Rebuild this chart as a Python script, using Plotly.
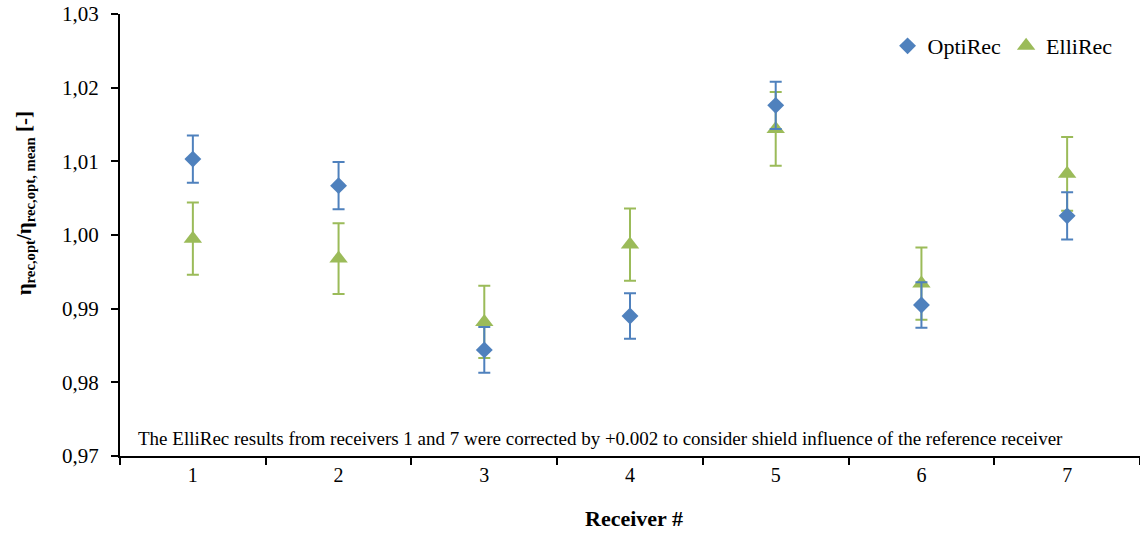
import plotly.graph_objects as go

receivers = ["1", "2", "3", "4", "5", "6", "7"]
opti_vals = [1.0103, 1.0067, 0.9844, 0.9890, 1.0176, 0.9905, 1.0026]
opti_err = [0.0032, 0.0032, 0.0031, 0.0031, 0.0032, 0.0031, 0.0032]
elli_vals = [0.9995, 0.9968, 0.9882, 0.9987, 1.0144, 0.9934, 1.0083]
elli_err = [0.0049, 0.0048, 0.0049, 0.0049, 0.0050, 0.0049, 0.0050]
y_ticks = [0.97, 0.98, 0.99, 1.00, 1.01, 1.02, 1.03]

BLUE = "#4F81BD"
GREEN = "#9BBB59"
FONT = "Times New Roman, Liberation Serif, serif"

fig = go.Figure()
fig.add_trace(go.Scatter(
    x=receivers, y=elli_vals, mode="markers", name="ElliRec",
    marker=dict(symbol="triangle-up", size=16, color=GREEN),
    error_y=dict(type="data", array=elli_err, visible=True, color=GREEN,
                 thickness=2, width=6),
))
fig.add_trace(go.Scatter(
    x=receivers, y=opti_vals, mode="markers", name="OptiRec",
    marker=dict(symbol="diamond", size=13, color=BLUE),
    error_y=dict(type="data", array=opti_err, visible=True, color=BLUE,
                 thickness=2, width=6),
))

fig.update_layout(
    width=1140, height=533,
    margin=dict(l=120, r=0, t=14, b=77, autoexpand=False),
    paper_bgcolor="white", plot_bgcolor="white",
    separators=",.",
    font=dict(family=FONT, size=20, color="black"),
    showlegend=True,
    legend=dict(orientation="h", x=0.978, y=0.975, xanchor="right", yanchor="top",
                traceorder="reversed", font=dict(size=22, family=FONT),
                itemwidth=30, bgcolor="rgba(0,0,0,0)"),
    xaxis=dict(
        type="category", tickson="boundaries", ticks="outside", ticklen=7,
        tickwidth=1.5, tickcolor="black", showline=True, linecolor="black",
        linewidth=2, showgrid=False, zeroline=False, range=[-0.5, 6.5],
        automargin=False, tickfont=dict(size=20, family=FONT),
    ),
    yaxis=dict(
        range=[0.97, 1.03], tickvals=y_ticks, tickformat=".2f",
        ticks="outside", ticklen=7, tickwidth=1.5, tickcolor="black",
        showline=True, linecolor="black", linewidth=2, showgrid=False,
        zeroline=False, automargin=False, ticklabelstandoff=8,
        ticklabeloverflow="allow",
        tickfont=dict(size=21, family=FONT),
    ),
)

fig.add_annotation(
    text="<b>Receiver #</b>", xref="paper", yref="paper", x=0.504, y=-0.1425,
    xanchor="center", yanchor="middle", showarrow=False,
    font=dict(size=22, family=FONT, color="black"),
)
fig.add_annotation(
    text="<b>η<sub>rec,opt</sub>/η<sub>rec,opt, mean</sub> [-]</b>",
    xref="paper", yref="paper", x=-0.093, y=0.572, textangle=-90,
    xanchor="center", yanchor="middle", showarrow=False,
    font=dict(size=21, family=FONT, color="black"),
)
fig.add_annotation(
    text="The ElliRec results from receivers 1 and 7 were corrected by +0.002 to consider shield influence of the reference receiver",
    xref="paper", yref="paper", x=0.016, y=0.012, xanchor="left", yanchor="bottom",
    showarrow=False, font=dict(size=19, family=FONT, color="black"),
)

fig.write_html("out.html", config={"displayModeBar": False},
               post_script="document.body.style.margin='0';document.body.style.padding='0';")
